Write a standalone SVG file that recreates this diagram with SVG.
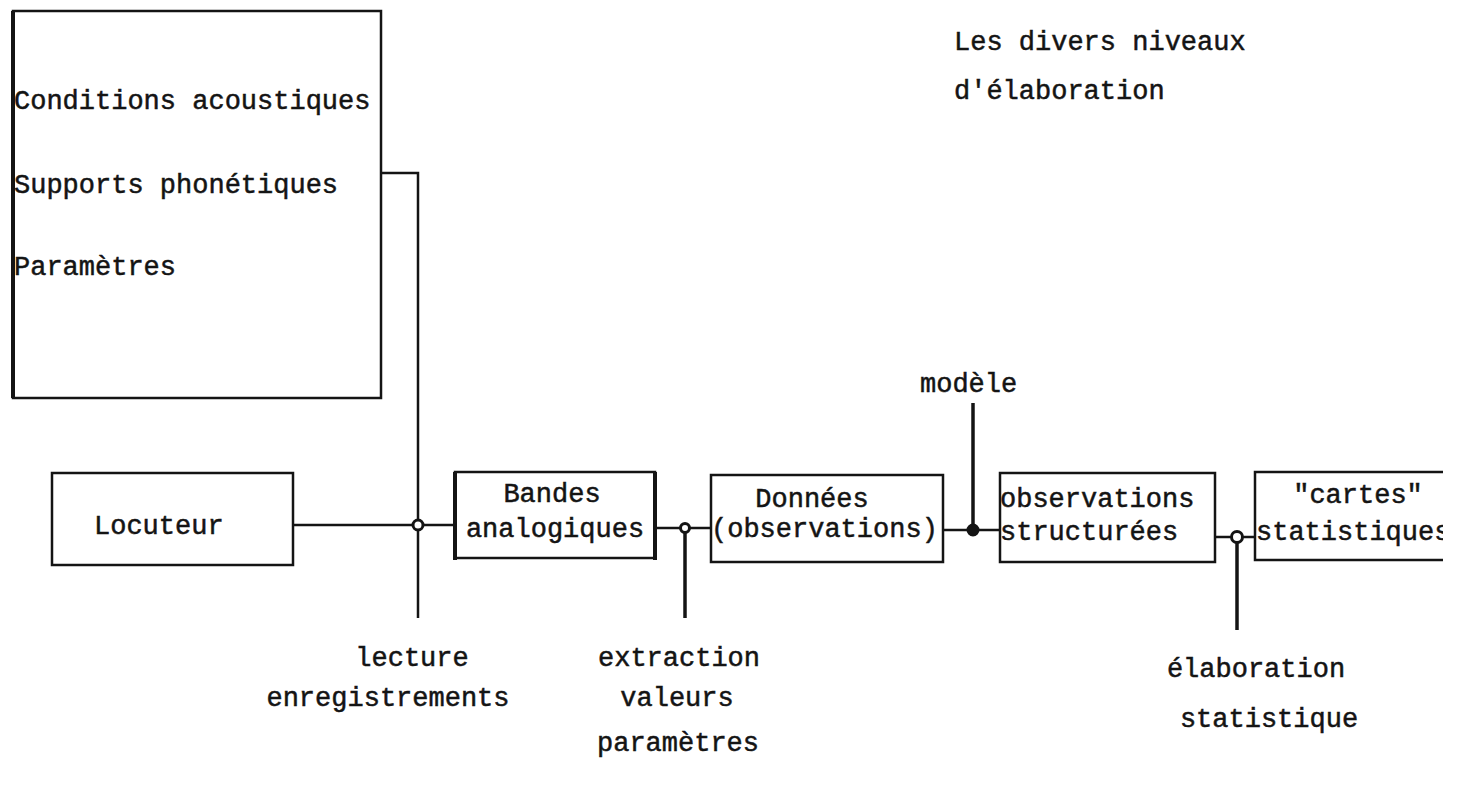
<svg xmlns="http://www.w3.org/2000/svg" width="1457" height="785" viewBox="0 0 1457 785">
  <style>
    .box { fill: none; stroke: #141414; stroke-width: 2.5; }
    .wire { fill: none; stroke: #141414; stroke-width: 2.5; }
    .post { fill: none; stroke: #141414; stroke-width: 3.5; }
    .knot { fill: #fff; stroke: #141414; stroke-width: 3; }
    .knot-solid { fill: #141414; stroke: #141414; stroke-width: 2; }
    text { font-family: "Liberation Mono", "Courier New", monospace; font-size: 27px; fill: #141414; stroke: #141414; stroke-width: 0.5; }
    .mid { text-anchor: middle; }
  </style>
  <defs>
    <clipPath id="page-edge">
      <rect x="0" y="0" width="1443" height="785"/>
    </clipPath>
  </defs>

  <!-- title -->
  <g id="title">
    <text x="954" y="50">Les divers niveaux</text>
    <text x="954" y="99">d'élaboration</text>
  </g>

  <!-- connectors -->
  <g id="connectors">
    <!-- from the conditions box down to the recording junction -->
    <polyline class="wire" points="381,173 418,173 418,618"/>
    <line class="wire" x1="293" y1="525" x2="455" y2="525"/>
    <line class="wire" x1="655" y1="528" x2="710" y2="528"/>
    <line class="post" x1="685" y1="528" x2="685" y2="618"/>
    <line class="wire" x1="943" y1="530" x2="1000" y2="530"/>
    <line class="post" x1="973" y1="403" x2="973" y2="530"/>
    <line class="wire" x1="1215" y1="537" x2="1255" y2="537"/>
    <line class="post" x1="1237" y1="537" x2="1237" y2="630"/>
    <circle class="knot" cx="418" cy="525" r="5"/>
    <circle class="knot" cx="685" cy="528" r="4.5"/>
    <circle class="knot-solid" cx="973" cy="530" r="5.5"/>
    <circle class="knot" cx="1237" cy="537" r="5.5"/>
  </g>

  <g id="conditions">
    <rect class="box" x="13" y="11" width="368" height="387"/>
    <line x1="13" y1="11" x2="13" y2="398" stroke="#141414" stroke-width="4"/>
    <text x="14" y="109">Conditions acoustiques</text>
    <text x="14" y="193">Supports phonétiques</text>
    <text x="14" y="275">Paramètres</text>
  </g>

  <g id="locuteur">
    <rect class="box" x="52" y="473" width="241" height="92"/>
    <text x="94" y="534">Locuteur</text>
  </g>

  <g id="bandes">
    <rect class="box" x="455" y="472" width="200" height="86"/>
    <line x1="455" y1="472" x2="455" y2="560" stroke="#141414" stroke-width="4"/>
    <line x1="655" y1="472" x2="655" y2="560" stroke="#141414" stroke-width="4"/>
    <text class="mid" x="552" y="502">Bandes</text>
    <text class="mid" x="555" y="537">analogiques</text>
  </g>

  <g id="donnees">
    <rect class="box" x="711" y="475" width="232" height="87"/>
    <text class="mid" x="812" y="507">Données</text>
    <text x="711" y="537">(observations)</text>
  </g>

  <g id="modele">
    <text x="920" y="392">modèle</text>
  </g>

  <g id="structurees">
    <rect class="box" x="1000" y="473" width="215" height="89"/>
    <text x="1000" y="507">observations</text>
    <text x="1000" y="540">structurées</text>
  </g>

  <g id="cartes" clip-path="url(#page-edge)">
    <polyline class="box" points="1443,472 1255,472 1255,560 1443,560"/>
    <text class="mid" x="1358" y="503">"cartes"</text>
    <text x="1256" y="540">statistiques</text>
  </g>

  <g id="lecture">
    <text class="mid" x="412" y="666">lecture</text>
    <text class="mid" x="388" y="706">enregistrements</text>
  </g>

  <g id="extraction">
    <text class="mid" x="679" y="666">extraction</text>
    <text class="mid" x="677" y="706">valeurs</text>
    <text class="mid" x="678" y="751">paramètres</text>
  </g>

  <g id="elaboration">
    <text class="mid" x="1256" y="677">élaboration</text>
    <text class="mid" x="1269" y="727">statistique</text>
  </g>
</svg>
